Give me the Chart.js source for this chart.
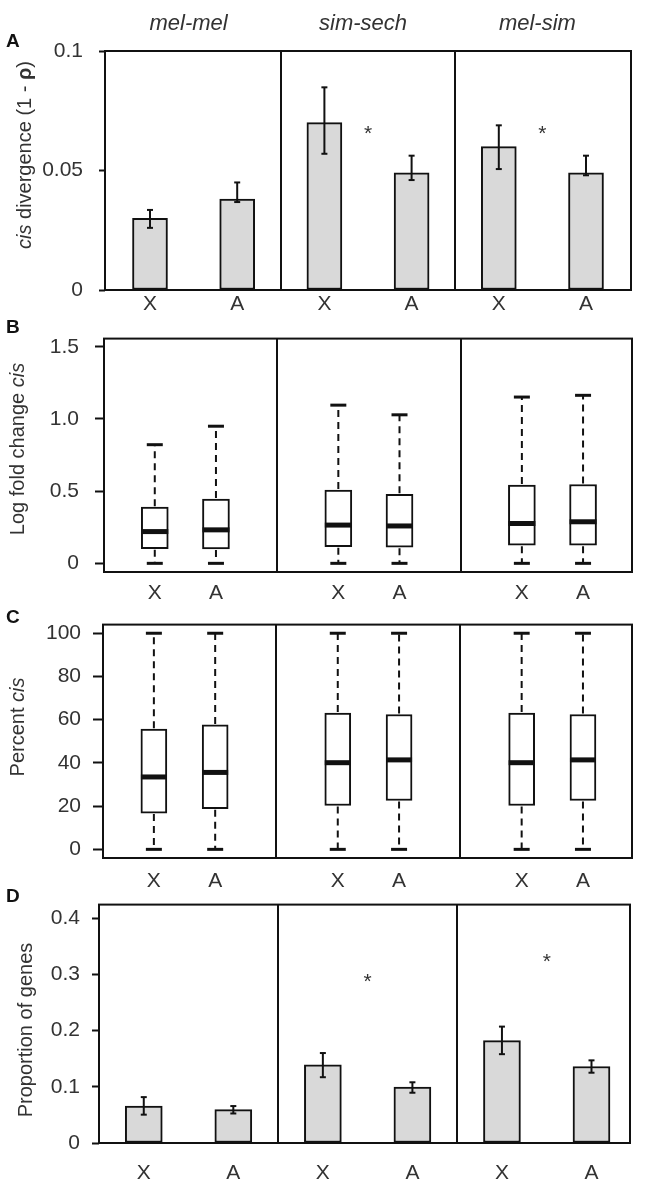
<!DOCTYPE html>
<html>
<head>
<meta charset="utf-8">
<script src="https://cdn.jsdelivr.net/npm/chart.js@4.4.0/dist/chart.umd.min.js"></script>
<style>
  html, body { margin: 0; padding: 0; background: #fff; }
  #wrap { position: relative; width: 651px; height: 1199px; overflow: hidden; }
  #wrap canvas { position: absolute; left: 0; }
</style>
</head>
<body>
<div id="wrap">
  <canvas id="panelA" width="651" height="320" style="top:0px"></canvas>
  <canvas id="panelB" width="651" height="300" style="top:310px"></canvas>
  <canvas id="panelC" width="651" height="295" style="top:600px"></canvas>
  <canvas id="panelD" width="651" height="319" style="top:880px"></canvas>
</div>
<script>
// --- data ---
const groups = ['mel-mel', 'sim-sech', 'mel-sim'];
const chroms = ['X', 'A', 'X', 'A', 'X', 'A'];
const barPos = [0, 1, 2, 3, 4, 5];
const boxPos = [0, 1, 3, 4, 6, 7];

// A: cis divergence (1 - rho), mean with error bar
const cisDiv   = [0.030, 0.038, 0.070, 0.049, 0.060, 0.049];
const cisDivLo = [0.026, 0.0368, 0.057, 0.046, 0.0506, 0.048];
const cisDivHi = [0.0335, 0.045, 0.0848, 0.0562, 0.0689, 0.0562];
const starA = [null, 0.068, 0.068];
const yTicksA = [0, 0.05, 0.1];
const yLabelsA = ['0', '0.05', '0.1'];

// B: log fold change cis (boxplots)
const lfcMin = [0, 0, 0, 0, 0, 0];
const lfcQ1  = [0.101, 0.100, 0.115, 0.112, 0.126, 0.126];
const lfcMed = [0.220, 0.232, 0.265, 0.259, 0.276, 0.288];
const lfcQ3  = [0.389, 0.445, 0.508, 0.478, 0.542, 0.546];
const lfcMax = [0.822, 0.950, 1.096, 1.029, 1.152, 1.164];
const yTicksB = [0, 0.5, 1, 1.5];
const yLabelsB = ['0', '0.5', '1.0', '1.5'];

// C: percent cis (boxplots)
const pctMin = [0, 0, 0, 0, 0, 0];
const pctQ1  = [16.8, 18.8, 20.3, 22.6, 20.3, 22.6];
const pctMed = [33.5, 35.6, 40.1, 41.4, 40.1, 41.4];
const pctQ3  = [55.6, 57.6, 63.1, 62.4, 63.1, 62.4];
const pctMax = [100, 100, 100, 100, 100, 100];
const yTicksC = [0, 20, 40, 60, 80, 100];
const yLabelsC = ['0', '20', '40', '60', '80', '100'];

// D: proportion of genes
const propGenes = [0.0657, 0.0593, 0.139, 0.0994, 0.182, 0.136];
const propLo    = [0.0504, 0.0525, 0.117, 0.0894, 0.158, 0.125];
const propHi    = [0.0816, 0.0657, 0.160, 0.108, 0.207, 0.147];
const starD = [null, 0.299, 0.335];
const yTicksD = [0, 0.1, 0.2, 0.3, 0.4];
const yLabelsD = ['0', '0.1', '0.2', '0.3', '0.4'];

const FONT = "'Liberation Sans', Arial, sans-serif";
const INK = '#111';
const TEXT = '#333';
const GREY = '#d9d9d9';

function line(ctx, x1, y1, x2, y2) {
  ctx.beginPath(); ctx.moveTo(x1, y1); ctx.lineTo(x2, y2); ctx.stroke();
}

// rotated axis title with mixed italic / bold pieces
function drawTitle(ctx, parts, cx, cy) {
  ctx.save();
  ctx.translate(cx, cy);
  ctx.rotate(-Math.PI / 2);
  ctx.fillStyle = TEXT;
  ctx.textBaseline = 'middle';
  ctx.textAlign = 'left';
  const fonts = parts.map(p => `${p[1] || ''} 20px ${FONT}`);
  const widths = parts.map((p, i) => { ctx.font = fonts[i]; return ctx.measureText(p[0]).width; });
  let xx = -widths.reduce((a, b) => a + b, 0) / 2;
  parts.forEach((p, i) => { ctx.font = fonts[i]; ctx.fillText(p[0], xx, 0); xx += widths[i]; });
  ctx.restore();
}

const deco = {
  id: 'deco',
  afterDatasetsDraw(chart, args, o) {
    const { ctx, chartArea: ca, scales: { x, y } } = chart;
    ctx.save();
    ctx.strokeStyle = INK;

    // error bars
    if (o.err) {
      ctx.lineWidth = 2;
      o.err.lo.forEach((lo, i) => {
        const px = x.getPixelForValue(o.err.pos[i]);
        const y1 = y.getPixelForValue(lo), y2 = y.getPixelForValue(o.err.hi[i]);
        line(ctx, px, y1, px, y2);
        line(ctx, px - 3, y1, px + 3, y1);
        line(ctx, px - 3, y2, px + 3, y2);
      });
    }

    // boxplot medians, whiskers and caps
    if (o.box) {
      const b = o.box, hw = b.width / 2;
      b.pos.forEach((p, i) => {
        const px = x.getPixelForValue(p);
        const yMin = y.getPixelForValue(b.min[i]), yQ1 = y.getPixelForValue(b.q1[i]);
        const yQ3 = y.getPixelForValue(b.q3[i]), yMax = y.getPixelForValue(b.max[i]);
        ctx.lineWidth = 2;
        ctx.setLineDash([7, 5]);
        line(ctx, px, yQ3 - 1, px, yMax);
        line(ctx, px, yQ1 + 1, px, yMin);
        ctx.setLineDash([]);
        ctx.lineWidth = 3;
        line(ctx, px - 8, yMax, px + 8, yMax);
        line(ctx, px - 8, yMin, px + 8, yMin);
        ctx.lineWidth = 5;
        const ym = y.getPixelForValue(b.med[i]);
        line(ctx, px - hw, ym, px + hw, ym);
      });
    }

    // frame and group dividers
    ctx.lineWidth = 2;
    ctx.strokeRect(ca.left, ca.top, ca.right - ca.left, ca.bottom - ca.top);
    o.dividers.forEach(v => {
      const px = Math.round(x.getPixelForValue(v));
      line(ctx, px, ca.top, px, ca.bottom);
    });

    // significance stars
    ctx.fillStyle = TEXT;
    ctx.textAlign = 'center';
    if (o.stars) {
      ctx.font = `21px ${FONT}`;
      ctx.textBaseline = 'alphabetic';
      o.stars.forEach((v, g) => {
        if (v == null) return;
        const px = x.getPixelForValue(o.groupPos[g]);
        ctx.fillText('*', px, y.getPixelForValue(v) + 13);
      });
    }

    // group names over the first panel
    if (o.groupNames) {
      ctx.font = `italic 22px ${FONT}`;
      ctx.textBaseline = 'alphabetic';
      groups.forEach((name, g) => ctx.fillText(name, x.getPixelForValue(o.groupPos[g]) - 5, 30));
    }

    // panel letter
    ctx.font = `bold 19px ${FONT}`;
    ctx.textAlign = 'left';
    ctx.textBaseline = 'alphabetic';
    ctx.fillStyle = '#111';
    ctx.fillText(o.letter, 6, o.letterY);

    drawTitle(ctx, o.title, o.titleX, o.titleY);
    ctx.restore();
  }
};

function makePanel(id, cfg) {
  const canvas = document.getElementById(id);
  const H = canvas.height;
  return new Chart(canvas, {
    type: 'bar',
    data: {
      datasets: [{
        data: cfg.data,
        backgroundColor: cfg.fill,
        borderColor: INK,
        borderWidth: 2,
        borderSkipped: false,
        barThickness: cfg.barWidth
      }]
    },
    options: {
      responsive: false, animation: false, events: [],
      layout: { padding: { top: cfg.area.top, right: 651 - cfg.area.right, bottom: 0, left: 0 } },
      plugins: { legend: { display: false }, tooltip: { enabled: false }, deco: cfg.deco },
      scales: {
        x: {
          type: 'linear', min: cfg.xMin, max: cfg.xMax, offset: false,
          grid: { display: false, drawTicks: false }, border: { display: false },
          afterBuildTicks: ax => { ax.ticks = cfg.xPos.map(v => ({ value: v })); },
          afterFit: ax => { ax.height = H - cfg.area.bottom; },
          ticks: {
            autoSkip: false, maxRotation: 0, minRotation: 0, padding: cfg.xPad,
            color: TEXT, font: { size: 21, family: FONT },
            callback: (v, i) => chroms[i]
          }
        },
        y: {
          min: cfg.yMin, max: cfg.yMax,
          afterBuildTicks: ax => { ax.ticks = cfg.yTicks.map(v => ({ value: v })); },
          afterFit: ax => { ax.width = cfg.area.left; },
          grid: { drawOnChartArea: false, tickLength: cfg.tickLen, tickColor: INK, tickWidth: 2 },
          border: { display: false },
          ticks: {
            padding: cfg.yPad, color: TEXT, font: { size: 21, family: FONT },
            callback: (v, i) => cfg.yLabels[i]
          }
        }
      }
    },
    plugins: [deco]
  });
}

// A
makePanel('panelA', {
  data: barPos.map((p, i) => ({ x: p, y: cisDiv[i] })),
  fill: GREY, barWidth: 35,
  area: { top: 51, bottom: 290, left: 105, right: 631 },
  xMin: -0.516, xMax: 5.516, xPos: barPos, xPad: 2,
  yMin: 0, yMax: 0.1, yTicks: yTicksA, yLabels: yLabelsA, tickLen: 6, yPad: 16,
  deco: {
    err: { pos: barPos, lo: cisDivLo, hi: cisDivHi },
    dividers: [1.5, 3.5], stars: starA, groupPos: [0.5, 2.5, 4.5], groupNames: true,
    letter: 'A', letterY: 47,
    title: [['cis', 'italic'], [' divergence (1 - '], ['ρ', 'bold'], [')']], titleX: 25, titleY: 155
  }
});

// B
makePanel('panelB', {
  data: boxPos.map((p, i) => ({ x: p, y: [lfcQ1[i], lfcQ3[i]] })),
  fill: '#fff', barWidth: 27,
  area: { top: 22, bottom: 262, left: 104, right: 632 },
  xMin: -0.83, xMax: 7.8, xPos: boxPos, xPad: 9,
  yMin: -0.06, yMax: 1.557, yTicks: yTicksB, yLabels: yLabelsB, tickLen: 9, yPad: 16,
  deco: {
    box: { pos: boxPos, min: lfcMin, q1: lfcQ1, med: lfcMed, q3: lfcQ3, max: lfcMax, width: 27 },
    dividers: [2, 5], letter: 'B', letterY: 23,
    title: [['Log fold change '], ['cis', 'italic']], titleX: 18, titleY: 139
  }
});

// C
makePanel('panelC', {
  data: boxPos.map((p, i) => ({ x: p, y: [pctQ1[i], pctQ3[i]] })),
  fill: '#fff', barWidth: 26,
  area: { top: 18, bottom: 258, left: 103, right: 632 },
  xMin: -0.83, xMax: 7.8, xPos: boxPos, xPad: 11,
  yMin: -4, yMax: 104, yTicks: yTicksC, yLabels: yLabelsC, tickLen: 10, yPad: 12,
  deco: {
    box: { pos: boxPos, min: pctMin, q1: pctQ1, med: pctMed, q3: pctQ3, max: pctMax, width: 26 },
    dividers: [2, 5], letter: 'C', letterY: 23,
    title: [['Percent '], ['cis', 'italic']], titleX: 18, titleY: 127
  }
});

// D
makePanel('panelD', {
  data: barPos.map((p, i) => ({ x: p, y: propGenes[i] })),
  fill: GREY, barWidth: 37,
  area: { top: 24, bottom: 263, left: 99, right: 630 },
  xMin: -0.5, xMax: 5.43, xPos: barPos, xPad: 18,
  yMin: 0, yMax: 0.424, yTicks: yTicksD, yLabels: yLabelsD, tickLen: 7, yPad: 12,
  deco: {
    err: { pos: barPos, lo: propLo, hi: propHi },
    dividers: [1.5, 3.5], stars: starD, groupPos: [0.5, 2.5, 4.5],
    letter: 'D', letterY: 22,
    title: [['Proportion of genes']], titleX: 26, titleY: 150
  }
});
</script>
</body>
</html>
